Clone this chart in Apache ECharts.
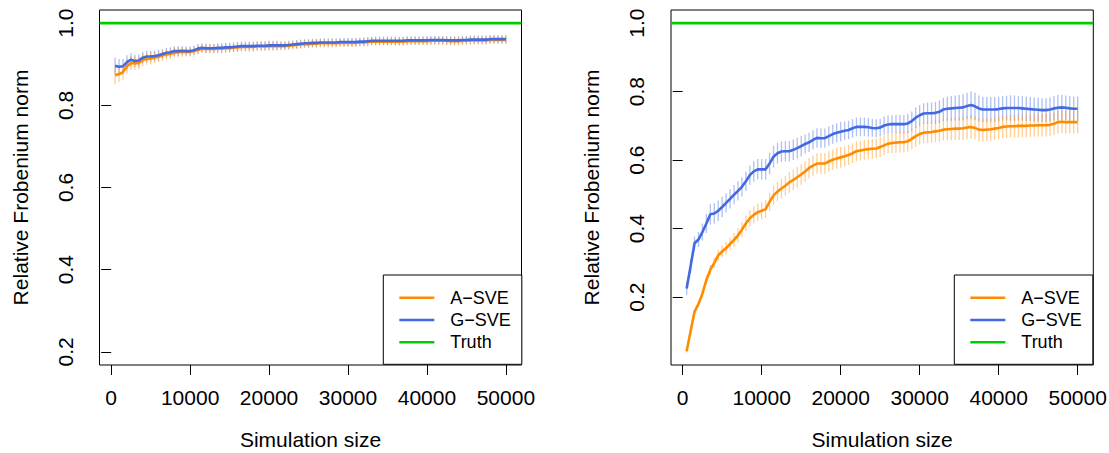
<!DOCTYPE html>
<html>
<head>
<meta charset="utf-8">
<script src="https://cdn.jsdelivr.net/npm/echarts@6/dist/echarts.min.js"></script>
<style>
  html, body { margin: 0; padding: 0; background: #fff; }
  #chart { width: 1109px; height: 453px; }
</style>
</head>
<body>
<div id="chart"></div>
<script>
// ---- Data ----
const xs = [500,1000,1500,2000,2500,3000,3500,4000,4500,5000,
  5500,6000,6500,7000,7500,8000,8500,9000,9500,10000,
  10500,11000,11500,12000,12500,13000,13500,14000,14500,15000,
  15500,16000,16500,17000,17500,18000,18500,19000,19500,20000,
  20500,21000,21500,22000,22500,23000,23500,24000,24500,25000,
  25500,26000,26500,27000,27500,28000,28500,29000,29500,30000,
  30500,31000,31500,32000,32500,33000,33500,34000,34500,35000,
  35500,36000,36500,37000,37500,38000,38500,39000,39500,40000,
  40500,41000,41500,42000,42500,43000,43500,44000,44500,45000,
  45500,46000,46500,47000,47500,48000,48500,49000,49500,50000];

const xTicks = [0, 10000, 20000, 30000, 40000, 50000];
const yTicks = [0.2, 0.4, 0.6, 0.8, 1.0];
const seriesNames = ['A\u2212SVE', 'G\u2212SVE', 'Truth'];
const truthValue = 1.0;

// Left panel
const leftA = [.873,.876,.881,.895,.903,.902,.903,.910,.913,.914,
  .916,.918,.921,.924,.925,.928,.929,.930,.930,.930,
  .932,.935,.937,.937,.937,.937,.938,.938,.939,.939,
  .940,.941,.942,.942,.942,.942,.943,.943,.943,.944,
  .944,.944,.944,.944,.945,.946,.947,.948,.949,.949,
  .950,.950,.951,.951,.951,.951,.951,.952,.952,.952,
  .952,.952,.953,.953,.954,.955,.955,.955,.955,.955,
  .955,.955,.955,.955,.956,.956,.956,.956,.956,.956,
  .957,.957,.957,.957,.957,.956,.956,.956,.957,.957,
  .958,.958,.958,.958,.958,.959,.959,.959,.959,.959];
const leftAErr = [.022,.020,.019,.018,.017,.016,.015,.015,.014,.014,
  .013,.013,.013,.012,.012,.012,.012,.012,.011,.011,
  .011,.011,.011,.011,.011,.011,.011,.011,.011,.011,
  .011,.011,.011,.011,.011,.011,.011,.011,.011,.011,
  .011,.011,.010,.010,.010,.010,.010,.010,.010,.010,
  .010,.010,.010,.010,.010,.010,.010,.010,.010,.010,
  .010,.010,.010,.010,.010,.010,.010,.010,.010,.010,
  .010,.010,.010,.010,.010,.010,.010,.010,.010,.010,
  .010,.010,.010,.010,.010,.010,.010,.010,.010,.010,
  .010,.010,.010,.010,.010,.010,.010,.010,.010,.010];
const leftG = [.896,.894,.895,.905,.911,.908,.909,.916,.919,.919,
  .920,.922,.925,.928,.929,.932,.932,.933,.932,.932,
  .934,.938,.940,.939,.939,.939,.940,.940,.941,.941,
  .942,.943,.944,.944,.944,.944,.945,.945,.945,.946,
  .946,.946,.946,.946,.947,.948,.949,.950,.951,.951,
  .952,.952,.953,.953,.953,.953,.953,.954,.954,.954,
  .954,.954,.955,.955,.956,.957,.957,.957,.957,.957,
  .957,.957,.957,.957,.958,.958,.958,.958,.958,.958,
  .959,.959,.959,.959,.958,.958,.958,.958,.959,.959,
  .960,.960,.960,.960,.960,.961,.961,.961,.961,.961];
const leftGErr = [.020,.019,.018,.017,.016,.015,.015,.014,.014,.013,
  .013,.013,.012,.012,.012,.012,.012,.011,.011,.011,
  .011,.011,.011,.011,.011,.011,.011,.011,.011,.011,
  .011,.011,.011,.011,.011,.011,.011,.011,.011,.011,
  .011,.011,.010,.010,.010,.010,.010,.010,.010,.010,
  .010,.010,.010,.010,.010,.010,.010,.010,.010,.010,
  .010,.010,.010,.010,.010,.010,.010,.010,.010,.010,
  .010,.010,.010,.010,.010,.010,.010,.010,.010,.010,
  .010,.010,.010,.010,.010,.010,.010,.010,.010,.010,
  .010,.010,.010,.010,.010,.010,.010,.010,.010,.010];

// Right panel
const rightA = [.042,.100,.157,.180,.210,.250,.280,.300,.322,.333,
  .343,.355,.367,.380,.397,.415,.430,.440,.448,.452,
  .457,.478,.497,.508,.517,.525,.535,.542,.550,.558,
  .567,.577,.584,.590,.590,.590,.596,.601,.605,.608,
  .611,.615,.620,.626,.628,.630,.632,.633,.634,.638,
  .643,.648,.650,.651,.652,.652,.655,.662,.670,.676,
  .680,.681,.682,.684,.686,.689,.690,.691,.692,.692,
  .693,.695,.697,.694,.689,.688,.689,.690,.692,.694,
  .697,.698,.699,.699,.700,.700,.700,.701,.701,.702,
  .702,.702,.703,.706,.711,.712,.711,.711,.711,.711];
const rightAErr = [.004,.006,.008,.010,.012,.013,.014,.015,.016,.017,
  .018,.019,.020,.021,.022,.023,.024,.025,.025,.026,
  .026,.027,.028,.028,.029,.029,.030,.030,.030,.030,
  .030,.030,.030,.030,.030,.030,.030,.030,.030,.030,
  .029,.029,.029,.029,.029,.029,.029,.029,.029,.029,
  .029,.029,.029,.030,.030,.030,.030,.030,.031,.031,
  .031,.031,.031,.032,.032,.032,.033,.033,.033,.033,
  .034,.034,.034,.034,.034,.033,.033,.033,.033,.033,
  .033,.033,.033,.033,.033,.033,.033,.033,.033,.033,
  .033,.033,.033,.033,.033,.033,.033,.033,.033,.033];
const rightG = [.225,.290,.357,.368,.390,.415,.442,.444,.452,.463,
  .475,.487,.499,.510,.522,.538,.556,.567,.573,.573,
  .573,.590,.610,.620,.625,.626,.626,.630,.635,.641,
  .647,.652,.659,.665,.664,.664,.670,.676,.680,.683,
  .686,.688,.693,.697,.697,.697,.696,.694,.693,.695,
  .701,.704,.705,.705,.705,.705,.707,.714,.724,.731,
  .736,.737,.737,.738,.741,.748,.750,.751,.752,.753,
  .754,.758,.761,.757,.751,.748,.748,.748,.748,.749,
  .751,.752,.752,.752,.752,.751,.750,.749,.748,.747,
  .746,.746,.748,.751,.753,.754,.753,.751,.750,.750];
const rightGErr = [.018,.020,.020,.022,.025,.028,.030,.030,.030,.030,
  .028,.028,.028,.028,.028,.028,.028,.030,.030,.030,
  .030,.032,.032,.030,.030,.030,.030,.030,.030,.030,
  .028,.028,.028,.028,.028,.028,.028,.028,.028,.028,
  .027,.027,.027,.027,.027,.027,.027,.026,.026,.026,
  .026,.026,.026,.027,.027,.027,.028,.028,.030,.030,
  .030,.031,.031,.032,.033,.034,.035,.036,.037,.037,
  .038,.039,.040,.040,.038,.037,.036,.036,.036,.036,
  .036,.036,.037,.037,.036,.036,.036,.035,.035,.035,
  .035,.035,.035,.036,.037,.037,.036,.036,.036,.036];

const yLimLeft = [0.2, 1.0];
const yLimRight = [0.04, 1.0];

// ---- Styling ----
const FONT = '"Liberation Sans", Arial, Helvetica, sans-serif';
const ORANGE = '#FF8C00';
const BLUE = '#4169E1';
const GREEN = '#00CD00';
const ORANGE_BAR = 'rgba(255,140,0,0.42)';
const BLUE_BAR = 'rgba(65,105,225,0.42)';

function rPad(lim) { const d = (lim[1] - lim[0]) * 0.04; return [lim[0] - d, lim[1] + d]; }
const xLim = rPad([xs[0], xs[xs.length - 1]]);

function pts(vals) { return xs.map((x, i) => [x, vals[i]]); }
function bars(vals, errs) { return xs.map((x, i) => [x, vals[i] - errs[i], vals[i] + errs[i]]); }

function errSeries(idx, vals, errs, color) {
  return {
    type: 'custom', xAxisIndex: idx, yAxisIndex: idx, z: 1, silent: true,
    encode: { x: 0, y: [1, 2] },
    data: bars(vals, errs),
    renderItem: function (params, api) {
      const p1 = api.coord([api.value(0), api.value(1)]);
      const p2 = api.coord([api.value(0), api.value(2)]);
      return { type: 'line', shape: { x1: p1[0], y1: p1[1], x2: p2[0], y2: p2[1] },
               style: { stroke: color, lineWidth: 1.3 } };
    }
  };
}
function lineSeries(idx, name, data, color, z) {
  return { type: 'line', name: name, xAxisIndex: idx, yAxisIndex: idx, data: data,
           color: color, showSymbol: false, symbol: 'none', z: z, silent: true,
           lineStyle: { width: 2.6, color: color }, animation: false };
}

function xAxisCfg(idx) {
  return {
    type: 'value', gridIndex: idx, min: xLim[0], max: xLim[1],
    axisLine: { show: false },
    axisTick: { show: true, length: 10, customValues: xTicks, lineStyle: { color: '#000', width: 1 } },
    axisLabel: { customValues: xTicks, margin: 22, fontSize: 21, color: '#000', fontFamily: FONT,
                 formatter: v => String(v), hideOverlap: false },
    splitLine: { show: false },
    name: 'Simulation size', nameLocation: 'middle', nameGap: 64,
    nameTextStyle: { fontSize: 21, color: '#000', fontFamily: FONT }
  };
}
function yAxisCfg(idx, lim) {
  const r = rPad(lim);
  return {
    type: 'value', gridIndex: idx, min: r[0], max: r[1],
    axisLine: { show: false },
    axisTick: { show: true, length: 10, customValues: yTicks, lineStyle: { color: '#000', width: 1 } },
    axisLabel: { customValues: yTicks, rotate: 90, margin: 24, fontSize: 21, color: '#000', fontFamily: FONT,
                 formatter: v => v.toFixed(1), hideOverlap: false },
    splitLine: { show: false },
    name: 'Relative Frobenium norm', nameLocation: 'middle', nameGap: 69, nameRotate: 90,
    nameTextStyle: { fontSize: 21, color: '#000', fontFamily: FONT }
  };
}
function legendCfg(left) {
  return {
    left: left, top: 275, orient: 'vertical', data: seriesNames, selectedMode: false,
    icon: 'rect', itemWidth: 35, itemHeight: 2.6, itemGap: 0.3,
    padding: [11.7, 11, 11, 16],
    borderColor: '#000', borderWidth: 1, backgroundColor: '#fff', borderRadius: 0,
    textStyle: { fontSize: 18, lineHeight: 22, color: '#000', fontFamily: FONT, padding: [0, 0, 0, 11] },
    z: 10
  };
}

const truthData = [[xLim[0], truthValue], [xLim[1], truthValue]];

const option = {
  animation: false,
  backgroundColor: '#fff',
  textStyle: { fontFamily: FONT },
  grid: [
    { left: 99.5, top: 10, width: 422, height: 355, show: true, borderColor: '#000', borderWidth: 1,
      backgroundColor: 'transparent', outerBoundsMode: 'none' },
    { left: 671, top: 10, width: 422.3, height: 355, show: true, borderColor: '#000', borderWidth: 1,
      backgroundColor: 'transparent', outerBoundsMode: 'none' }
  ],
  xAxis: [xAxisCfg(0), xAxisCfg(1)],
  yAxis: [yAxisCfg(0, yLimLeft), yAxisCfg(1, yLimRight)],
  legend: [legendCfg(383.3), legendCfg(954.3)],
  series: [
    errSeries(0, leftG, leftGErr, BLUE_BAR),
    errSeries(0, leftA, leftAErr, ORANGE_BAR),
    lineSeries(0, seriesNames[0], pts(leftA), ORANGE, 3),
    lineSeries(0, seriesNames[1], pts(leftG), BLUE, 4),
    lineSeries(0, seriesNames[2], truthData, GREEN, 5),
    errSeries(1, rightG, rightGErr, BLUE_BAR),
    errSeries(1, rightA, rightAErr, ORANGE_BAR),
    lineSeries(1, seriesNames[0], pts(rightA), ORANGE, 3),
    lineSeries(1, seriesNames[1], pts(rightG), BLUE, 4),
    lineSeries(1, seriesNames[2], truthData, GREEN, 5)
  ]
};

const chart = echarts.init(document.getElementById('chart'), null, { renderer: 'svg' });
chart.setOption(option);
</script>
</body>
</html>
